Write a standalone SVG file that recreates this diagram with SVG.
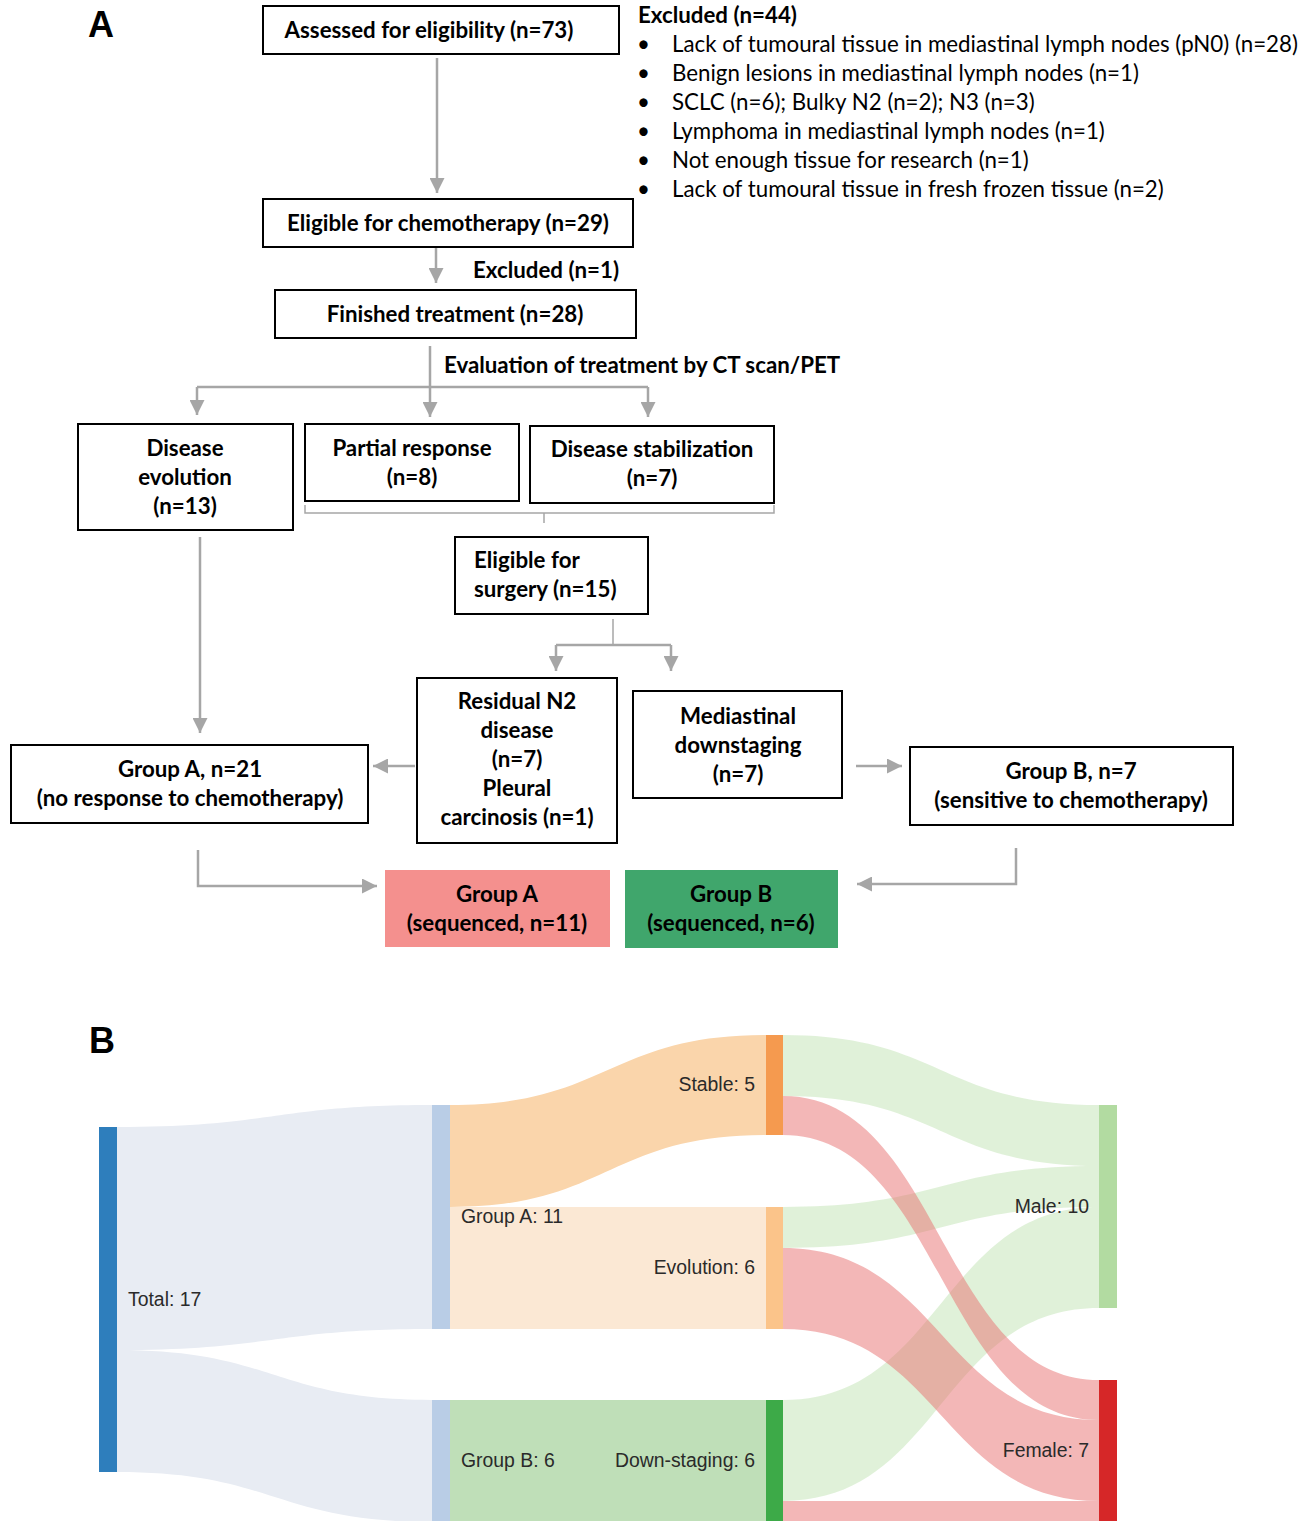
<svg xmlns="http://www.w3.org/2000/svg" width="1314" height="1521" viewBox="0 0 1314 1521">
<style>
.bx{fill:#fff;stroke:#000;stroke-width:2}
.t{font-family:Lato,"Liberation Sans",sans-serif;font-weight:bold;font-size:22.3px;fill:#000}
.tc{text-anchor:middle}
.r{font-family:Lato,"Liberation Sans",sans-serif;font-size:22.3px;fill:#000}
.pl{font-family:"Liberation Sans",Arial,sans-serif;font-weight:bold;font-size:36px;fill:#000}
.ln{fill:none;stroke:#a6a6a6;stroke-width:2.5}
.br{fill:none;stroke:#a6a6a6;stroke-width:1.5}
.sl{font-family:"Liberation Sans",Arial,sans-serif;font-size:19.4px;fill:#2a2a2a}
.e{text-anchor:end}
.lm{fill:#b2dba1;fill-opacity:0.4}
.lf{fill:#e8706f;fill-opacity:0.5}
</style>
<defs>
<marker id="ah" viewBox="0 0 10 10" refX="10" refY="5" markerWidth="6" markerHeight="6" markerUnits="strokeWidth" orient="auto">
<path d="M0,0 L10,5 L0,10 Z" fill="#a6a6a6"/>
</marker>
</defs>
<text class="pl" x="88" y="37">A</text>
<text class="pl" x="89" y="1053">B</text>

<g id="connectors">
<line class="ln" x1="437" y1="58" x2="437" y2="193" marker-end="url(#ah)"/>
<line class="ln" x1="436" y1="247" x2="436" y2="283" marker-end="url(#ah)"/>
<line class="ln" x1="430" y1="346" x2="430" y2="387"/>
<line class="ln" x1="197" y1="387" x2="648" y2="387"/>
<line class="ln" x1="197" y1="387" x2="197" y2="415" marker-end="url(#ah)"/>
<line class="ln" x1="430" y1="387" x2="430" y2="417" marker-end="url(#ah)"/>
<line class="ln" x1="648" y1="387" x2="648" y2="417" marker-end="url(#ah)"/>
<path class="br" d="M305,505 L305,513 L774,513 L774,505 M544,513 L544,523"/>
<line class="ln" x1="200" y1="537" x2="200" y2="733" marker-end="url(#ah)"/>
<path class="br" d="M613,619 L613,645"/>
<line class="ln" x1="556" y1="645" x2="671" y2="645"/>
<line class="ln" x1="556" y1="645" x2="556" y2="671" marker-end="url(#ah)"/>
<line class="ln" x1="671" y1="645" x2="671" y2="671" marker-end="url(#ah)"/>
<line class="ln" x1="415" y1="766" x2="373" y2="766" stroke-width="3" marker-end="url(#ah)"/>
<line class="ln" x1="856" y1="766" x2="902" y2="766" stroke-width="3" marker-end="url(#ah)"/>
<polyline class="ln" points="198,850 198,886 377,886" marker-end="url(#ah)"/>
<polyline class="ln" points="1016,848 1016,884 857,884" marker-end="url(#ah)"/>
</g>

<g id="n-assessed">
<rect class="bx" x="263" y="6" width="356" height="48"/>
<text class="t tc" x="429" y="38">Assessed for eligibility (n=73)</text>
</g>
<g id="n-excluded44">
<text class="t" x="638" y="23">Excluded (n=44)</text>
<g class="r">
<text x="637" y="52">•</text><text x="672" y="52">Lack of tumoural tissue in mediastinal lymph nodes (pN0) (n=28)</text>
<text x="637" y="81">•</text><text x="672" y="81">Benign lesions in mediastinal lymph nodes (n=1)</text>
<text x="637" y="110">•</text><text x="672" y="110">SCLC (n=6); Bulky N2 (n=2); N3 (n=3)</text>
<text x="637" y="139">•</text><text x="672" y="139">Lymphoma in mediastinal lymph nodes (n=1)</text>
<text x="637" y="168">•</text><text x="672" y="168">Not enough tissue for research (n=1)</text>
<text x="637" y="197">•</text><text x="672" y="197">Lack of tumoural tissue in fresh frozen tissue (n=2)</text>
</g>
</g>
<g id="n-eligible-chemo">
<rect class="bx" x="263" y="199" width="370" height="48"/>
<text class="t tc" x="448" y="231">Eligible for chemotherapy (n=29)</text>
</g>
<g id="n-excluded1">
<text class="t" x="473" y="278">Excluded (n=1)</text>
</g>
<g id="n-finished">
<rect class="bx" x="275" y="290" width="361" height="48"/>
<text class="t tc" x="455" y="322">Finished treatment (n=28)</text>
</g>
<g id="n-eval">
<text class="t" x="444" y="373">Evaluation of treatment by CT scan/PET</text>
</g>
<g id="n-evolution">
<rect class="bx" x="78" y="424" width="215" height="106"/>
<text class="t tc" x="185" y="456">Disease</text>
<text class="t tc" x="185" y="485">evolution</text>
<text class="t tc" x="185" y="514">(n=13)</text>
</g>
<g id="n-partial">
<rect class="bx" x="305" y="424" width="214" height="77"/>
<text class="t tc" x="412" y="456">Partial response</text>
<text class="t tc" x="412" y="485">(n=8)</text>
</g>
<g id="n-stabilization">
<rect class="bx" x="530" y="426" width="244" height="77"/>
<text class="t tc" x="652" y="457">Disease stabilization</text>
<text class="t tc" x="652" y="486">(n=7)</text>
</g>
<g id="n-surgery">
<rect class="bx" x="455" y="537" width="193" height="77"/>
<text class="t" x="474" y="568">Eligible for</text>
<text class="t" x="474" y="597">surgery (n=15)</text>
</g>
<g id="n-residual">
<rect class="bx" x="417" y="678" width="200" height="165"/>
<text class="t tc" x="517" y="709">Residual N2</text>
<text class="t tc" x="517" y="738">disease</text>
<text class="t tc" x="517" y="767">(n=7)</text>
<text class="t tc" x="517" y="796">Pleural</text>
<text class="t tc" x="517" y="825">carcinosis (n=1)</text>
</g>
<g id="n-downstaging">
<rect class="bx" x="633" y="691" width="209" height="107"/>
<text class="t tc" x="738" y="724">Mediastinal</text>
<text class="t tc" x="738" y="753">downstaging</text>
<text class="t tc" x="738" y="782">(n=7)</text>
</g>
<g id="n-groupA">
<rect class="bx" x="11" y="745" width="357" height="78"/>
<text class="t tc" x="190" y="777">Group A, n=21</text>
<text class="t tc" x="190" y="806">(no response to chemotherapy)</text>
</g>
<g id="n-groupB">
<rect class="bx" x="910" y="747" width="323" height="78"/>
<text class="t tc" x="1071" y="779">Group B, n=7</text>
<text class="t tc" x="1071" y="808">(sensitive to chemotherapy)</text>
</g>
<g id="n-seqA">
<rect x="385" y="870" width="225" height="77" fill="#f4908e"/>
<text class="t tc" x="497" y="902">Group A</text>
<text class="t tc" x="497" y="931">(sequenced, n=11)</text>
</g>
<g id="n-seqB">
<rect x="625" y="870" width="213" height="78" fill="#40a66c"/>
<text class="t tc" x="731" y="902">Group B</text>
<text class="t tc" x="731" y="931">(sequenced, n=6)</text>
</g>

<g id="sankey-links">
<path fill="#e8ecf3" d="M117,1127 C274.5,1127 274.5,1105 432,1105 L432,1329 C274.5,1329 274.5,1350 117,1350 Z"/>
<path fill="#e8ecf3" d="M117,1350 C274.5,1350 274.5,1400 432,1400 L432,1522 C274.5,1522 274.5,1472 117,1472 Z"/>
<path fill="#fad5ab" d="M450,1105 C608,1105 608,1035 766,1035 L766,1135 C608,1135 608,1207 450,1207 Z"/>
<path fill="#fbe8d4" d="M450,1207 L766,1207 L766,1329 L450,1329 Z"/>
<path fill="#bfdfb8" d="M450,1400 L766,1400 L766,1522 L450,1522 Z"/>
<path class="lm" d="M783,1035 C941,1035 941,1105 1099,1105 L1099,1166 C941,1166 941,1096 783,1096 Z"/>
<path class="lm" d="M783,1207 C941,1207 941,1166 1099,1166 L1099,1207 C941,1207 941,1248 783,1248 Z"/>
<path class="lm" d="M783,1400 C941,1400 941,1207 1099,1207 L1099,1308 C941,1308 941,1501 783,1501 Z"/>
<path class="lf" d="M783,1096 C941,1096 941,1380 1099,1380 L1099,1420 C941,1420 941,1135 783,1135 Z"/>
<path class="lf" d="M783,1248 C941,1248 941,1420 1099,1420 L1099,1501 C941,1501 941,1329 783,1329 Z"/>
<path class="lf" d="M783,1501 L1099,1501 L1099,1522 L783,1522 Z"/>
</g>
<g id="s-total"><rect x="99" y="1127" width="18" height="345" fill="#2e7ebc"/><text class="sl" x="128" y="1306">Total: 17</text></g>
<g id="s-groupA"><rect x="432" y="1105" width="18" height="224" fill="#b9cde6"/><text class="sl" x="461" y="1223">Group A: 11</text></g>
<g id="s-groupB"><rect x="432" y="1400" width="18" height="122" fill="#b9cde6"/><text class="sl" x="461" y="1467">Group B: 6</text></g>
<g id="s-stable"><rect x="766" y="1035" width="17" height="100" fill="#f59a4f"/><text class="sl e" x="755" y="1091">Stable: 5</text></g>
<g id="s-evolution"><rect x="766" y="1207" width="17" height="122" fill="#fbc48a"/><text class="sl e" x="755" y="1274">Evolution: 6</text></g>
<g id="s-downstaging"><rect x="766" y="1400" width="17" height="122" fill="#3daa48"/><text class="sl e" x="755" y="1467">Down-staging: 6</text></g>
<g id="s-male"><rect x="1099" y="1105" width="18" height="203" fill="#b2dba1"/><text class="sl e" x="1089" y="1213">Male: 10</text></g>
<g id="s-female"><rect x="1099" y="1380" width="18" height="142" fill="#d62728"/><text class="sl e" x="1089" y="1457">Female: 7</text></g>
</svg>
